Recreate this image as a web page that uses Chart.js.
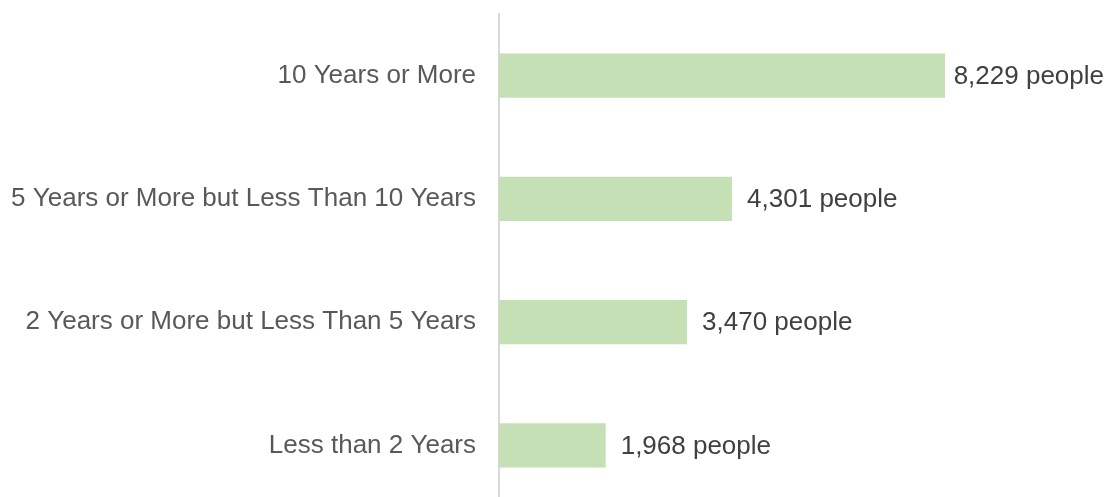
<!DOCTYPE html>
<html>
<head>
<meta charset="utf-8">
<script src="https://cdn.jsdelivr.net/npm/chart.js@4/dist/chart.umd.min.js"></script>
<style>
    html, body { margin: 0; padding: 0; background: #fff; overflow: hidden; }
    #wrap { position: relative; width: 1107px; height: 507px; }
</style>
</head>
<body>
<div id="wrap"><canvas id="chart"></canvas></div>
<script>
// data
const categories = ['10 Years or More', '5 Years or More but Less Than 10 Years', '2 Years or More but Less Than 5 Years', 'Less than 2 Years'];
const people = [8229, 4301, 3470, 1968];
const unitLabel = 'people';

const FONT = 'Liberation Sans, Arial, sans-serif';

// value labels to the right of each bar
const valueLabels = {
    id: 'valueLabels',
    afterDatasetsDraw(chart) {
        const ctx = chart.ctx;
        const meta = chart.getDatasetMeta(0);
        ctx.save();
        ctx.font = '26px ' + FONT;
        ctx.fillStyle = '#404040';
        ctx.textBaseline = 'middle';
        meta.data.forEach((bar, i) => {
            const text = people[i].toLocaleString('en-US') + ' ' + unitLabel;
            const w = ctx.measureText(text).width;
            let x = bar.x + 15;
            if (x + w > chart.width - 3) x = chart.width - 3 - w;
            ctx.fillText(text, x, bar.y + 1);
        });
        ctx.restore();
    }
};

new Chart(document.getElementById('chart'), {
    type: 'bar',
    data: {
        labels: categories,
        datasets: [{
            data: people,
            backgroundColor: '#c5e0b4',
            borderWidth: 0,
            barPercentage: 0.358,
            categoryPercentage: 1
        }]
    },
    options: {
        indexAxis: 'y',
        responsive: true,
        maintainAspectRatio: false,
        animation: false,
        layout: { padding: { top: 14, right: 66, bottom: 0, left: 0 } },
        plugins: {
            legend: { display: false },
            tooltip: { enabled: false }
        },
        scales: {
            x: {
                display: false,
                min: 0,
                max: 10000
            },
            y: {
                afterFit(scale) {
                    scale.width = 499;
                    scale.paddingTop = 0;
                    scale.paddingBottom = 0;
                },
                grid: { display: false, drawTicks: false },
                border: { display: true, color: '#d9d9d9', width: 2 },
                ticks: {
                    color: '#595959',
                    padding: 23,
                    font: { family: FONT, size: 26 }
                }
            }
        }
    },
    plugins: [valueLabels]
});
</script>
</body>
</html>
